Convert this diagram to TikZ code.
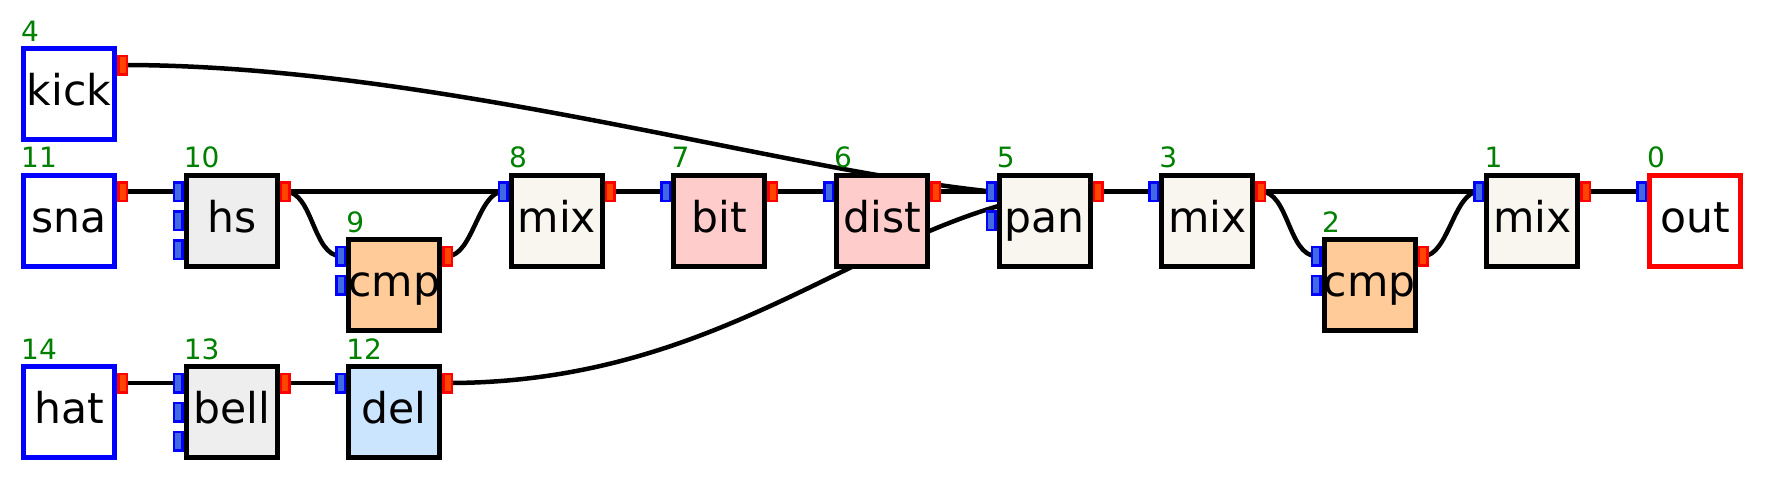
\documentclass[tikz,border=0pt]{standalone}
\usepackage{fontspec}
\setmainfont{DejaVu Sans}
\pgfdeclarelayer{bg}
\pgfsetlayers{bg,main}
\definecolor{srcblue}{RGB}{0,0,255}
\definecolor{inportc}{RGB}{65,105,225}
\definecolor{outportc}{RGB}{255,69,0}
\definecolor{numgreen}{RGB}{0,128,0}
\definecolor{grayfill}{RGB}{238,238,238}
\definecolor{cmpfill}{RGB}{255,204,153}
\definecolor{mixfill}{RGB}{248,246,238}
\definecolor{pinkfill}{RGB}{255,204,204}
\definecolor{delfill}{RGB}{204,229,255}
\tikzset{
  box/.style={rectangle, draw=black, line width=5pt, minimum width=91pt, minimum height=91pt, inner sep=0pt, outer sep=0pt},
  srcbox/.style={box, draw=srcblue, fill=white},
  sinkbox/.style={box, draw=red, fill=white},
  graybox/.style={box, fill=grayfill},
  cmpbox/.style={box, fill=cmpfill},
  mixbox/.style={box, fill=mixfill},
  pinkbox/.style={box, fill=pinkfill},
  delbox/.style={box, fill=delfill},
  inp/.style={rectangle, draw=blue, fill=inportc, line width=2.5pt, minimum width=8.5pt, minimum height=18.5pt, inner sep=0pt, outer sep=0pt},
  outp/.style={rectangle, draw=red, fill=outportc, line width=2.5pt, minimum width=8.5pt, minimum height=18.5pt, inner sep=0pt, outer sep=0pt},
  lbl/.style={anchor=base, inner sep=0pt, font=\fontsize{42.5}{42.5}\selectfont},
  num/.style={anchor=base west, inner sep=0pt, text=numgreen, font=\fontsize{28}{28}\selectfont},
  wire/.style={draw=black, line width=4.5pt},
}
% #1 name, #2 x, #3 y, #4 style, #5 text, #6 number, #7 inputs, #8 outputs
\newcommand{\mkblk}[8]{%
  \node[#4] (#1) at (#2,#3) {};
  \node[lbl] (#1-t) at (#2,#3+11.5) {#5};
  \node[num] (#1-n) at (#2-48,#3-53) {#6};
  \ifnum#7>0 \node[inp] (#1-i1) at (#2-53.5,#3-29) {};\fi
  \ifnum#7>1 \node[inp] (#1-i2) at (#2-53.5,#3) {};\fi
  \ifnum#7>2 \node[inp] (#1-i3) at (#2-53.5,#3+29) {};\fi
  \ifnum#8>0 \node[outp] (#1-o1) at (#2+53.5,#3-29) {};\fi
}
\begin{document}
\begin{tikzpicture}[x=1pt, y=-1pt]
\useasboundingbox (0,0) rectangle (1765,480);
% row kick
\mkblk{kick}{69}{94}{srcbox}{kick}{4}{0}{1}
% main row
\mkblk{sna}{69}{220.5}{srcbox}{sna}{11}{0}{1}
\mkblk{hs}{231.6}{220.5}{graybox}{hs}{10}{3}{1}
\mkblk{mixA}{556.8}{220.5}{mixbox}{mix}{8}{1}{1}
\mkblk{bit}{719.4}{220.5}{pinkbox}{bit}{7}{1}{1}
\mkblk{dist}{882}{220.5}{pinkbox}{dist}{6}{1}{1}
\mkblk{pan}{1044.6}{220.5}{mixbox}{pan}{5}{2}{1}
\mkblk{mixB}{1207.2}{220.5}{mixbox}{mix}{3}{1}{1}
\mkblk{mixC}{1532.4}{220.5}{mixbox}{mix}{1}{1}{1}
\mkblk{out}{1695}{220.5}{sinkbox}{out}{0}{1}{0}
% cmp row
\mkblk{cmpA}{394.2}{285}{cmpbox}{cmp}{9}{2}{1}
\mkblk{cmpB}{1369.8}{285}{cmpbox}{cmp}{2}{2}{1}
% hat row
\mkblk{hat}{69}{412}{srcbox}{hat}{14}{0}{1}
\mkblk{bell}{231.6}{412}{graybox}{bell}{13}{3}{1}
\mkblk{del}{394.2}{412}{delbox}{del}{12}{1}{1}
\coordinate (pan-hid) at (1040,196);
\begin{pgfonlayer}{bg}
  \draw[wire] (sna-o1.center) -- (hs-i1.center);
  \draw[wire] (hs-o1.center) -- (mixA-i1.center);
  \draw[wire] (hs-o1.center) .. controls +(28,0) and +(-28,0) .. (cmpA-i1.center);
  \draw[wire] (cmpA-o1.center) .. controls +(25,0) and +(-25,0) .. (mixA-i1.center);
  \draw[wire] (mixA-o1.center) -- (bit-i1.center);
  \draw[wire] (bit-o1.center) -- (dist-i1.center);
  \draw[wire] (dist-o1.center) -- (pan-i1.center);
  \draw[wire] (kick-o1.center) .. controls +(307.5,0) and +(-211,-21.5) .. (pan-i1.center);
  \draw[wire] (del-o1.center) .. controls (720,383) and (860,230) .. (pan-hid);
  \draw[wire] (hat-o1.center) -- (bell-i1.center);
  \draw[wire] (bell-o1.center) -- (del-i1.center);
  \draw[wire] (pan-o1.center) -- (mixB-i1.center);
  \draw[wire] (mixB-o1.center) -- (mixC-i1.center);
  \draw[wire] (mixB-o1.center) .. controls +(28,0) and +(-28,0) .. (cmpB-i1.center);
  \draw[wire] (cmpB-o1.center) .. controls +(25,0) and +(-25,0) .. (mixC-i1.center);
  \draw[wire] (mixC-o1.center) -- (out-i1.center);
\end{pgfonlayer}
\end{tikzpicture}
\end{document}
